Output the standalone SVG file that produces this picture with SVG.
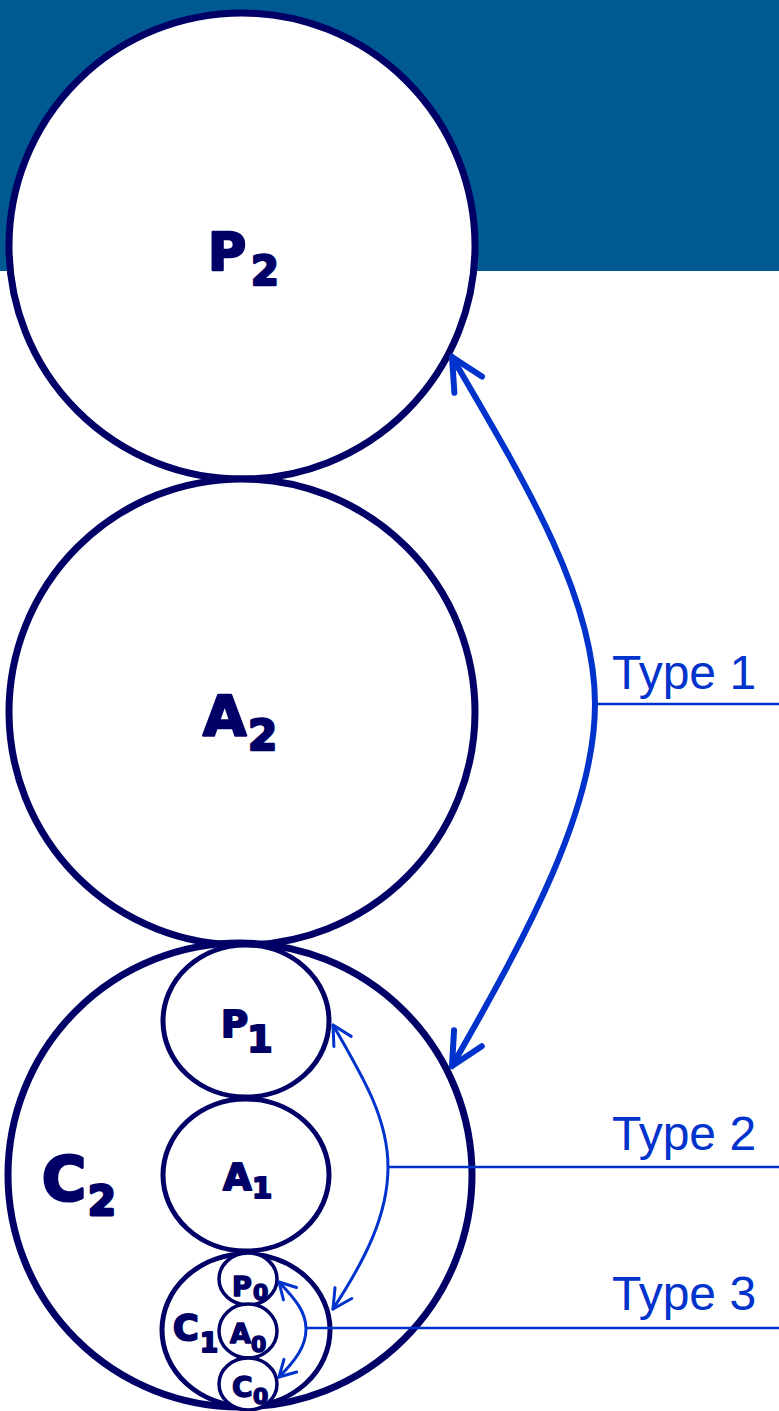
<svg xmlns="http://www.w3.org/2000/svg" width="779" height="1411" viewBox="0 0 779 1411">
<style>
.big{fill:#fff;stroke:#000066;stroke-width:7}
.mid{fill:#fff;stroke:#000066;stroke-width:5}
.sml{fill:#fff;stroke:#000066;stroke-width:3.5}
.lbl{font-family:"DejaVu Sans",Verdana,sans-serif;font-weight:bold;fill:#000066;stroke:#000066;stroke-linejoin:round}
.typ{font-family:"Liberation Sans",Arial,sans-serif;fill:#0033cc;font-size:48px}
.arr{fill:none;stroke:#0033cc;stroke-linecap:round}
.lead{stroke:#0033cc;stroke-width:2.5}
</style>
<defs>
<marker id="mBig" markerUnits="userSpaceOnUse" orient="auto-start-reverse" refX="0" refY="0" overflow="visible" markerWidth="1" markerHeight="1">
<path d="M-32,-16 L0,0 L-32,16" fill="none" stroke="#0033cc" stroke-width="6" stroke-linecap="round" stroke-linejoin="round"/>
</marker>
<marker id="mSm" markerUnits="userSpaceOnUse" orient="auto-start-reverse" refX="0" refY="0" overflow="visible" markerWidth="1" markerHeight="1">
<path d="M-19,-10 L0,0 L-19,10" fill="none" stroke="#0033cc" stroke-width="3" stroke-linecap="round" stroke-linejoin="round"/>
</marker>
<marker id="mXs" markerUnits="userSpaceOnUse" orient="auto-start-reverse" refX="0" refY="0" overflow="visible" markerWidth="1" markerHeight="1">
<path d="M-16,-9 L0,0 L-16,9" fill="none" stroke="#0033cc" stroke-width="3" stroke-linecap="round" stroke-linejoin="round"/>
</marker>
</defs>
<rect x="0" y="0" width="779" height="1411" fill="#fff"/>
<rect x="0" y="0" width="779" height="271" fill="#005a91"/>

<g id="P2"><circle class="big" cx="242" cy="246" r="233"/>
<text class="lbl" font-size="52" stroke-width="2.5"><tspan x="208" y="270">P</tspan><tspan x="251" y="285" font-size="40">2</tspan></text></g>
<g id="A2"><circle class="big" cx="242" cy="712" r="233"/>
<text class="lbl" font-size="56" stroke-width="2.5"><tspan x="203" y="735">A</tspan><tspan x="248" y="750" font-size="42">2</tspan></text></g>
<g id="C2"><circle class="big" cx="240" cy="1175" r="232"/>
<text class="lbl" font-size="60" stroke-width="3"><tspan x="42" y="1200">C</tspan><tspan x="88" y="1215" font-size="40">2</tspan></text></g>
<g id="P1"><ellipse class="mid" cx="246" cy="1021" rx="83" ry="76"/>
<text class="lbl" font-size="37" stroke-width="2"><tspan x="221" y="1037">P</tspan><tspan x="247" y="1052">1</tspan></text></g>
<g id="A1"><ellipse class="mid" cx="246" cy="1175" rx="83" ry="76"/>
<text class="lbl" font-size="37" stroke-width="2"><tspan x="223" y="1190">A</tspan><tspan x="252" y="1198" font-size="29">1</tspan></text></g>
<g id="C1"><ellipse class="mid" cx="246" cy="1330" rx="84" ry="76"/>
<text class="lbl" font-size="35" stroke-width="2"><tspan x="173" y="1340">C</tspan><tspan x="200" y="1352" font-size="26">1</tspan></text></g>
<g id="P0"><ellipse class="sml" cx="248" cy="1279" rx="29" ry="26"/>
<text class="lbl" font-size="27" stroke-width="1.5"><tspan x="232" y="1296">P</tspan><tspan x="253" y="1300" font-size="22">0</tspan></text></g>
<g id="A0"><ellipse class="sml" cx="248" cy="1331" rx="29" ry="27"/>
<text class="lbl" font-size="27" stroke-width="1.5"><tspan x="230" y="1343">A</tspan><tspan x="251" y="1352" font-size="22">0</tspan></text></g>
<g id="C0"><ellipse class="sml" cx="248" cy="1384" rx="29" ry="26"/>
<text class="lbl" font-size="28" stroke-width="1.5"><tspan x="232" y="1397">C</tspan><tspan x="253" y="1404" font-size="22">0</tspan></text></g>

<g id="connectors">
<path class="arr" stroke-width="6" d="M452,357 C530,490 595,600 595,704 C595,808 530,930 452,1066" marker-start="url(#mBig)" marker-end="url(#mBig)"/>
<path class="arr" stroke-width="3" d="M333,1025 C365,1080 388,1120 388,1167 C388,1215 365,1260 333,1309" marker-start="url(#mSm)" marker-end="url(#mSm)"/>
<path class="arr" stroke-width="3" d="M279,1282 C296,1300 306,1312 306,1329 C306,1346 296,1360 279,1377" marker-start="url(#mXs)" marker-end="url(#mXs)"/>
<line class="lead" x1="596" y1="704" x2="779" y2="704"/>
<line class="lead" x1="388" y1="1167" x2="779" y2="1167"/>
<line class="lead" x1="306" y1="1328" x2="779" y2="1328"/>
<text class="typ" x="612" y="689">Type 1</text>
<text class="typ" x="612" y="1150">Type 2</text>
<text class="typ" x="612" y="1310">Type 3</text>
</g>
</svg>
